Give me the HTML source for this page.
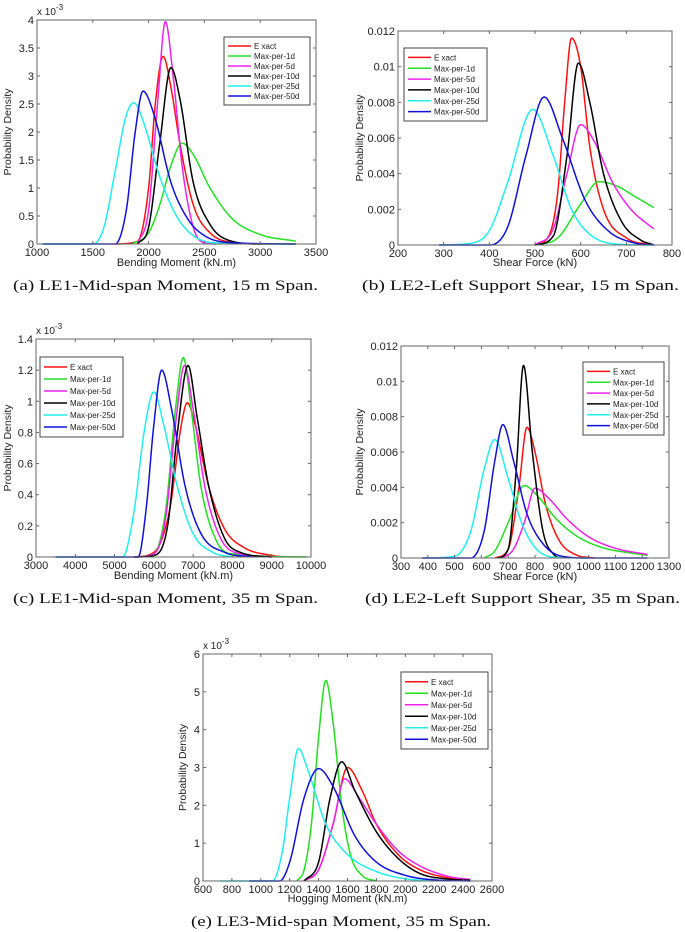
<!DOCTYPE html>
<html><head><meta charset="utf-8">
<style>
html,body{margin:0;padding:0;background:#fff;}
svg{display:block;}
text{font-family:"Liberation Sans",sans-serif;fill:#222;}
.cap{font-family:"Liberation Serif",serif;font-size:15px;fill:#111;}
</style></head>
<body>
<svg id="fig" width="685" height="932" viewBox="0 0 685 932"></svg>
<script>
// ---- data (density values in units of 1e-3) ----
const seriesNames = ["Exact","Max-per-1d","Max-per-5d","Max-per-10d","Max-per-25d","Max-per-50d"];
const seriesColors = ["#ff1010","#22e022","#ee22ee","#000000","#22eeee","#1010dd"];

// (a) LE1 mid-span moment 15 m
const aExactX=[1700,1900,2000,2060,2130,2200,2280,2400,2550,2800,3000];
const aExactY=[0,0.05,1.0,2.5,3.35,2.8,1.8,0.7,0.2,0.02,0];
const a1dX=[1850,2000,2100,2200,2300,2400,2550,2750,3000,3320];
const a1dY=[0,0.2,0.7,1.4,1.8,1.6,1.0,0.45,0.17,0.05];
const a5dX=[1900,2000,2080,2150,2220,2300,2400,2500,2600];
const a5dY=[0,0.6,2.5,3.97,3.0,1.4,0.3,0.02,0];
const a10dX=[1900,2000,2100,2200,2280,2400,2550,2700,3000,3320];
const a10dY=[0,0.3,1.8,3.15,2.6,1.1,0.35,0.08,0,0];
const a25dX=[1050,1500,1600,1700,1800,1870,1950,2100,2250,2400,2600,3320];
const a25dY=[0,0,0.3,1.3,2.3,2.52,2.2,1.2,0.5,0.15,0.02,0];
const a50dX=[1050,1700,1800,1880,1950,2050,2200,2350,2500,2700,3320];
const a50dY=[0,0,0.6,2.0,2.73,2.3,1.1,0.45,0.15,0.03,0];
const aXTicks=[1000,1500,2000,2500,3000,3500];
const aYTicks=[0,0.5,1,1.5,2,2.5,3,3.5,4];
const aYLabels=["0","0.5","1","1.5","2","2.5","3","3.5","4"];

// (b) LE2 left support shear 15 m
const bExactX=[500,530,550,565,580,600,620,650,700,760];
const bExactY=[0,0.5,3,8,11.6,10,5.5,2,0.4,0];
const b1dX=[500,550,600,640,680,720,760];
const b1dY=[0,0.4,2.3,3.55,3.3,2.7,2.1];
const b5dX=[500,540,570,600,630,670,710,760];
const b5dY=[0,0.9,4,6.75,5.8,3.5,2,0.9];
const b10dX=[500,540,570,595,620,650,690,730,760];
const b10dY=[0,0.5,5,10.2,8,4,1.3,0.3,0];
const b25dX=[290,360,400,440,495,540,580,620,680,760];
const b25dY=[0,0.1,0.8,3.5,7.6,5,2,0.6,0.05,0];
const b50dX=[290,400,440,480,520,560,610,660,720,760];
const b50dY=[0,0,1,5,8.3,6,2.5,0.8,0.1,0];
const bXTicks=[200,300,400,500,600,700,800];
const bYTicks=[0,2,4,6,8,10,12];
const bYLabels=["0","0.002","0.004","0.006","0.008","0.01","0.012"];

// (c) LE1 mid-span moment 35 m
const cExactX=[5500,6000,6400,6700,6850,7050,7400,7800,8300,9000,9300];
const cExactY=[0,0.03,0.3,0.85,0.99,0.85,0.45,0.18,0.06,0.01,0];
const c1dX=[5500,6000,6300,6550,6750,6950,7200,7600,8000,9900];
const c1dY=[0,0.02,0.3,0.95,1.28,0.95,0.45,0.1,0.02,0];
const c5dX=[5500,6000,6300,6550,6780,7000,7300,7700,8200,9000];
const c5dY=[0,0.02,0.25,0.85,1.23,0.95,0.45,0.12,0.02,0];
const c10dX=[5500,6000,6350,6600,6870,7100,7400,7800,8200,9000];
const c10dY=[0,0.01,0.2,0.8,1.23,0.9,0.45,0.12,0.03,0];
const c25dX=[3500,5200,5500,5750,6000,6250,6600,7000,7500,8000];
const c25dY=[0,0,0.3,0.8,1.06,0.85,0.45,0.15,0.03,0];
const c50dX=[3500,5600,5800,6000,6200,6450,6800,7200,7800,8500];
const c50dY=[0,0,0.3,0.85,1.2,0.95,0.45,0.15,0.03,0];
const cXTicks=[3000,4000,5000,6000,7000,8000,9000,10000];
const cYTicks=[0,0.2,0.4,0.6,0.8,1,1.2,1.4];
const cYLabels=["0","0.2","0.4","0.6","0.8","1","1.2","1.4"];

// (d) LE2 left support shear 35 m
const dExactX=[650,700,740,770,800,840,890,950,1020];
const dExactY=[0,0.5,4,7.4,6,3,1,0.2,0];
const d1dX=[610,650,700,760,810,880,960,1060,1150,1220];
const d1dY=[0,0.4,2,4.1,3.5,2.2,1.2,0.55,0.3,0.15];
const d5dX=[680,720,760,800,850,920,1000,1100,1220];
const d5dY=[0,0.5,2,3.95,3.4,2.2,1.2,0.55,0.2];
const d10dX=[660,700,730,757,790,830,870,900];
const d10dY=[0,0.5,5,10.9,6,1.5,0.2,0];
const d25dX=[380,500,560,610,650,700,750,800,870,1000];
const d25dY=[0,0.1,1.5,5,6.7,4.5,2,0.6,0.05,0];
const d50dX=[380,560,610,650,680,720,770,830,900,1000,1220];
const d50dY=[0,0,1.5,5.5,7.55,5.5,2.5,0.8,0.1,0,0];
const dXTicks=[300,400,500,600,700,800,900,1000,1100,1200,1300];
const dYTicks=[0,2,4,6,8,10,12];
const dYLabels=["0","0.002","0.004","0.006","0.008","0.01","0.012"];

// (e) LE3 mid-span hogging moment 35 m
const eExactX=[1300,1400,1500,1600,1700,1800,1950,2100,2300,2450];
const eExactY=[0,0.3,1.5,3.0,2.4,1.5,0.7,0.3,0.08,0.02];
const e1dX=[1250,1300,1350,1400,1450,1500,1560,1620,1700,1800];
const e1dY=[0,0.3,1.5,3.8,5.3,4.2,2.0,0.7,0.15,0];
const e5dX=[1300,1400,1500,1580,1680,1800,1950,2100,2300,2450];
const e5dY=[0,0.3,1.5,2.7,2.2,1.5,0.8,0.4,0.12,0.04];
const e10dX=[1300,1400,1480,1560,1650,1800,1950,2100,2300,2450];
const e10dY=[0,0.5,2.2,3.15,2.4,1.3,0.6,0.2,0.05,0.02];
const e25dX=[720,1080,1150,1200,1260,1320,1450,1600,1800,2000,2300];
const e25dY=[0,0,0.8,2.2,3.5,3.0,1.5,0.7,0.25,0.06,0];
const e50dX=[920,1130,1200,1300,1400,1500,1650,1800,2000,2200,2450];
const e50dY=[0,0,0.5,2.2,2.97,2.5,1.2,0.5,0.15,0.03,0];
const eXTicks=[600,800,1000,1200,1400,1600,1800,2000,2200,2400,2600];
const eYTicks=[0,1,2,3,4,5,6];
const eYLabels=["0","1","2","3","4","5","6"];

const NS="http://www.w3.org/2000/svg";
const svg=document.getElementById('fig');
function mk(tag,attrs,parent){const e=document.createElementNS(NS,tag);for(const k in attrs)e.setAttribute(k,attrs[k]);(parent||svg).appendChild(e);return e;}

// monotone cubic interpolation (no overshoot)
function monotone(xs,ys,n){
  const m=xs.length,d=[],t=new Array(m).fill(0);
  for(let i=0;i<m-1;i++)d.push((ys[i+1]-ys[i])/(xs[i+1]-xs[i]));
  t[0]=d[0];t[m-1]=d[m-2];
  for(let i=1;i<m-1;i++){t[i]=(d[i-1]*d[i]<=0)?0:(d[i-1]+d[i])/2;}
  for(let i=0;i<m-1;i++){if(d[i]===0){t[i]=0;t[i+1]=0;continue;}
    const a=t[i]/d[i],b=t[i+1]/d[i],s=a*a+b*b;if(s>9){const k=3/Math.sqrt(s);t[i]=k*a*d[i];t[i+1]=k*b*d[i];}}
  const out=[];
  for(let i=0;i<m-1;i++){const h=xs[i+1]-xs[i];
    for(let j=0;j<n;j++){const u=j/n,h00=2*u*u*u-3*u*u+1,h10=u*u*u-2*u*u+u,h01=-2*u*u*u+3*u*u,h11=u*u*u-u*u;
      out.push([xs[i]+u*h,h00*ys[i]+h10*h*t[i]+h01*ys[i+1]+h11*h*t[i+1]]);}}
  out.push([xs[m-1],ys[m-1]]);return out;
}

function plot(cfg){
  const g=mk('g',{});
  
  
  const {L,R,T,B,xmin,xmax,ymin,ymax}=cfg;
  const sx=v=>L+(v-xmin)/(xmax-xmin)*(R-L);
  const sy=v=>B-(v-ymin)/(ymax-ymin)*(B-T);
  // series
  cfg.series.forEach((s,i)=>{
    const pts=monotone(s[0],s[1],24);
    const p=mk('polyline',{points:pts.map(q=>sx(q[0]).toFixed(2)+','+sy(Math.max(0,q[1])).toFixed(2)).join(' '),fill:'none',stroke:seriesColors[i],'stroke-width':1.5,'stroke-linejoin':'round'},g);
    
    
  });
  // box
  const box=mk('rect',{x:L,y:T,width:R-L,height:B-T,fill:'none',stroke:'#666','stroke-width':1},g);
  
  
  // x ticks
  cfg.xt.forEach(v=>{const x=sx(v);
    mk('line',{x1:x,x2:x,y1:B,y2:B-3,stroke:'#666'},g);mk('line',{x1:x,x2:x,y1:T,y2:T+3,stroke:'#666'},g);
    const t=mk('text',{x:x,y:B+12,'font-size':11,'text-anchor':'middle'},g);t.textContent=v;
    
    
  });
  cfg.yt.forEach((v,i)=>{const y=sy(v);
    mk('line',{x1:L,x2:L+3,y1:y,y2:y,stroke:'#666'},g);mk('line',{x1:R,x2:R-3,y1:y,y2:y,stroke:'#666'},g);
    const t=mk('text',{x:L-3,y:y+4,'font-size':11,'text-anchor':'end'},g);t.textContent=cfg.yl[i];
    
    
  });
  if(cfg.exp){const t=mk('text',{x:L,y:T-5,'font-size':10},g);t.innerHTML='<tspan>x 10</tspan><tspan dy="-5" font-size="8">-3</tspan>';
    
    }
  const xt=mk('text',{x:(L+R)/2,y:cfg.xty,'font-size':11,'text-anchor':'middle'},g);xt.textContent=cfg.xlabel;
  
  
  const yt=mk('text',{x:0,y:0,'font-size':10.5,'text-anchor':'middle',transform:`translate(${cfg.ytx},${(T+B)/2}) rotate(-90)`},g);yt.textContent='Probability Density';
  
  
  // legend
  const lg=mk('g',{},g);
  
  
  const [lx,ly,lw,lh]=cfg.leg;
  mk('rect',{x:lx,y:ly,width:lw,height:lh,fill:'#fff',stroke:'#444','stroke-width':1},lg);
  const rh=(lh-8)/6;
  seriesNames.forEach((n,i)=>{const y=ly+4+rh*(i+0.5);
    const ln=mk('line',{x1:lx+4,x2:lx+27,y1:y,y2:y,stroke:seriesColors[i],'stroke-width':1.5},lg);
    const t=mk('text',{x:lx+30,y:y+3,'font-size':8},lg);t.textContent=n==='Exact'?'E xact':n;
    
    
  });
  const c=mk('text',{x:cfg.cap[0],y:cfg.cap[1],class:'cap',textLength:cfg.cap[2],lengthAdjust:'spacingAndGlyphs'});c.textContent=cfg.caption;
  
  
}

plot({name:'chart-a',L:37,R:316,T:20,B:244,xmin:1000,xmax:3500,ymin:0,ymax:4,xt:aXTicks,yt:aYTicks,yl:aYLabels,exp:true,
  xlabel:'Bending Moment (kN.m)',xty:266,ytx:11,leg:[224,37,86,68],cap:[13,290,305],caption:'(a) LE1-Mid-span Moment, 15 m Span.',
  series:[[aExactX,aExactY],[a1dX,a1dY],[a5dX,a5dY],[a10dX,a10dY],[a25dX,a25dY],[a50dX,a50dY]]});
plot({name:'chart-b',L:398,R:672,T:31,B:245,xmin:200,xmax:800,ymin:0,ymax:12,xt:bXTicks,yt:bYTicks,yl:bYLabels,exp:false,
  xlabel:'Shear Force (kN)',xty:266,ytx:363,leg:[404,48,83,73],cap:[362,290,317],caption:'(b) LE2-Left Support Shear, 15 m Span.',
  series:[[bExactX,bExactY],[b1dX,b1dY],[b5dX,b5dY],[b10dX,b10dY],[b25dX,b25dY],[b50dX,b50dY]]});
plot({name:'chart-c',L:36,R:311,T:339,B:557,xmin:3000,xmax:10000,ymin:0,ymax:1.4,xt:cXTicks,yt:cYTicks,yl:cYLabels,exp:true,
  xlabel:'Bending Moment (kN.m)',xty:579,ytx:11,leg:[40,357,83,80],cap:[13,603,305],caption:'(c) LE1-Mid-span Moment, 35 m Span.',
  series:[[cExactX,cExactY],[c1dX,c1dY],[c5dX,c5dY],[c10dX,c10dY],[c25dX,c25dY],[c50dX,c50dY]]});
plot({name:'chart-d',L:401,R:669,T:346,B:558,xmin:300,xmax:1300,ymin:0,ymax:12,xt:dXTicks,yt:dYTicks,yl:dYLabels,exp:false,
  xlabel:'Shear Force (kN)',xty:580,ytx:363,leg:[583,362,81,73],cap:[365,603,315],caption:'(d) LE2-Left Support Shear, 35 m Span.',
  series:[[dExactX,dExactY],[d1dX,d1dY],[d5dX,d5dY],[d10dX,d10dY],[d25dX,d25dY],[d50dX,d50dY]]});
plot({name:'chart-e',L:203,R:492,T:654,B:881,xmin:600,xmax:2600,ymin:0,ymax:6,xt:eXTicks,yt:eYTicks,yl:eYLabels,exp:true,
  xlabel:'Hogging Moment (kN.m)',xty:902,ytx:186,leg:[401,672,87,77],cap:[191,926,300],caption:'(e) LE3-Mid-span Moment, 35 m Span.',
  series:[[eExactX,eExactY],[e1dX,e1dY],[e5dX,e5dY],[e10dX,e10dY],[e25dX,e25dY],[e50dX,e50dY]]});
</script>
</body></html>
